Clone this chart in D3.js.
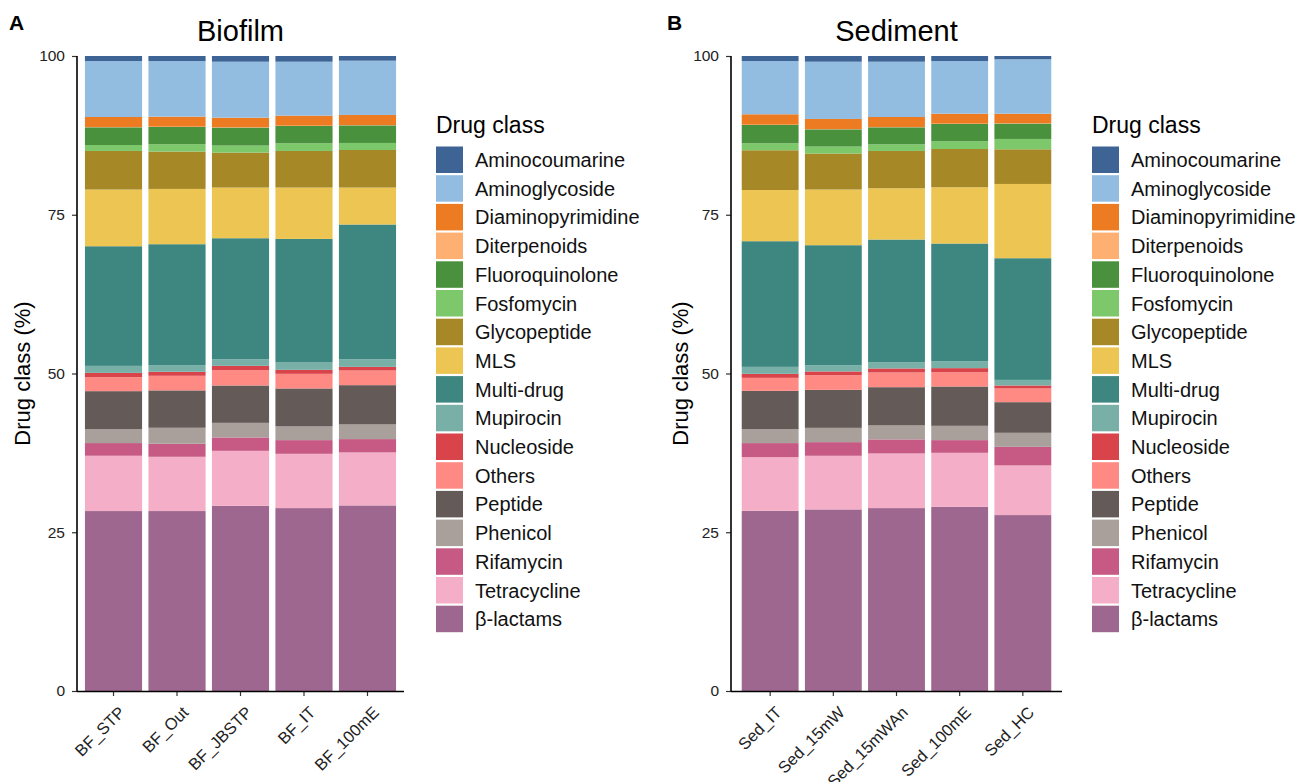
<!DOCTYPE html>
<html>
<head>
<meta charset="utf-8">
<script src="https://cdn.jsdelivr.net/npm/d3@7"></script>
<style>
  body { margin: 0; background: #fff; }
  text { font-family: "Liberation Sans", Arial, sans-serif; }
</style>
</head>
<body>
<div id="chart"></div>
<script>
// drug classes in legend order (top of legend = top of stack)
var drugClasses = ["Aminocoumarine", "Aminoglycoside", "Diaminopyrimidine", "Diterpenoids",
    "Fluoroquinolone", "Fosfomycin", "Glycopeptide", "MLS", "Multi-drug", "Mupirocin",
    "Nucleoside", "Others", "Peptide", "Phenicol", "Rifamycin", "Tetracycline", "β-lactams"];
var classColors = ["#3E6496", "#93BDE0", "#EC7B22", "#FDB072", "#4A913E", "#7CC86A", "#A68826",
    "#ECC553", "#3D8780", "#78B0A8", "#D9434A", "#FF8A84", "#645B59", "#A99F9B", "#C65A84",
    "#F5AEC7", "#9E678F"];

var biofilmSamples = ["BF_STP", "BF_Out", "BF_JBSTP", "BF_IT", "BF_100mE"];
var sedimentSamples = ["Sed_IT", "Sed_15mW", "Sed_15mWAn", "Sed_100mE", "Sed_HC"];

// values per sample, same order as drugClasses (%)
var BF_STP     = [0.79, 8.82, 1.57, 0.05, 2.79, 0.94, 6.08, 8.93, 18.85, 1.10, 0.68, 2.20, 5.98, 2.20, 2.00, 8.71, 28.35];
var BF_Out     = [0.79, 8.77, 1.57, 0.05, 2.72, 1.15, 5.89, 8.71, 19.05, 1.05, 0.63, 2.30, 5.89, 2.52, 2.05, 8.55, 28.35];
var BF_JBSTP   = [0.90, 8.82, 1.51, 0.05, 2.83, 1.11, 5.51, 7.98, 19.06, 1.05, 0.68, 2.41, 5.89, 2.30, 2.11, 8.66, 29.18];
var BF_IT      = [0.90, 8.50, 1.58, 0.05, 2.72, 1.21, 5.77, 8.09, 19.47, 1.16, 0.63, 2.30, 5.98, 2.16, 2.16, 8.55, 28.82];
var BF_100mE   = [0.74, 8.55, 1.58, 0.05, 2.78, 1.11, 5.92, 5.82, 21.22, 1.21, 0.57, 2.31, 6.19, 2.31, 2.10, 8.35, 29.24];
var Sed_IT     = [0.79, 8.39, 1.64, 0.05, 2.88, 1.10, 6.26, 8.07, 19.80, 1.10, 0.63, 2.05, 6.03, 2.20, 2.21, 8.46, 28.39];
var Sed_15mW   = [0.90, 9.02, 1.58, 0.05, 2.72, 1.10, 5.67, 8.77, 18.90, 0.99, 0.59, 2.31, 5.99, 2.25, 2.15, 8.45, 28.61];
var Sed_15mWAn = [0.90, 8.71, 1.57, 0.05, 2.68, 1.05, 5.88, 8.08, 19.32, 0.99, 0.63, 2.32, 6.03, 2.20, 2.21, 8.61, 28.82];
var Sed_100mE  = [0.79, 8.30, 1.57, 0.05, 2.73, 1.21, 6.03, 8.87, 18.53, 1.10, 0.63, 2.26, 6.20, 2.25, 2.00, 8.51, 29.02];
var Sed_HC     = [0.52, 8.57, 1.51, 0.05, 2.42, 1.63, 5.46, 11.70, 19.17, 0.88, 0.47, 2.16, 4.83, 2.21, 2.93, 7.82, 27.72];

var yTicks = [0, 25, 50, 75, 100];

var svg = d3.select('#chart').append('svg')
    .attr("width", 1299)
    .attr("height", 782);

var color = d3.scaleOrdinal().domain(drugClasses).range(classColors);

function buildRows(samples, valueArrays) {
    return samples.map(function(s, i) {
        var vals = valueArrays[i];
        var total = d3.sum(vals);
        var row = { sample: s };
        drugClasses.forEach(function(c, j) { row[c] = vals[j] / total * 100; });
        return row;
    });
}

function drawPanel(opts) {
    var rows = buildRows(opts.samples, opts.values);
    var top = 56, bottom = 691;

    var g = svg.append("g")
        .attr("transform", "translate(" + opts.left + ",0)");

    var x = d3.scaleBand()
        .domain(opts.samples)
        .range([0, opts.width])
        .paddingInner(0.1)
        .paddingOuter(opts.padOuter);

    var y = d3.scaleLinear()
        .domain([0, 100])
        .range([bottom, top]);

    // bottom of the stack is the last legend entry
    var stack = d3.stack().keys(drugClasses.slice().reverse());
    var series = stack(rows);

    g.selectAll("g.layer")
        .data(series)
        .enter().append("g")
        .attr("class", "layer")
        .attr("fill", function(d) { return color(d.key); })
        .selectAll("rect")
        .data(function(d) { return d; })
        .enter().append("rect")
        .attr("x", function(d) { return x(d.data.sample); })
        .attr("width", x.bandwidth())
        .attr("y", function(d) { return y(d[1]); })
        .attr("height", function(d) { return Math.max(0, y(d[0]) - y(d[1])); });

    // y axis
    var yAxis = g.append("g")
        .call(d3.axisLeft(y).tickValues(yTicks).tickSize(5).tickPadding(7));
    yAxis.select(".domain").remove();
    yAxis.append("line")
        .attr("x1", 0).attr("x2", 0)
        .attr("y1", top).attr("y2", bottom + 0.5)
        .attr("stroke", "#000").attr("stroke-width", 1.6);
    yAxis.selectAll(".tick line").attr("stroke", "#333").attr("stroke-width", 1.2);
    yAxis.selectAll(".tick text")
        .style("font-size", "15.5px")
        .attr("fill", "#222")
        .style("font-family", "'Liberation Sans', Arial, sans-serif");

    // x axis
    var xAxis = g.append("g")
        .attr("transform", "translate(0," + bottom + ")")
        .call(d3.axisBottom(x).tickSize(5).tickPadding(4));
    xAxis.select(".domain").remove();
    xAxis.append("line")
        .attr("x1", 0).attr("x2", opts.width)
        .attr("y1", 0.5).attr("y2", 0.5)
        .attr("stroke", "#000").attr("stroke-width", 1.6);
    xAxis.selectAll(".tick line").attr("stroke", "#333").attr("stroke-width", 1.2);
    xAxis.selectAll(".tick text")
        .style("font-size", "16.5px")
        .attr("fill", "#222")
        .attr("text-anchor", "end")
        .attr("dy", "0.35em")
        .attr("transform", "translate(2,12) rotate(-45)")
        .style("font-family", "'Liberation Sans', Arial, sans-serif");

    // y axis title
    g.append("text")
        .attr("transform", "translate(" + (opts.titleX - opts.left) + "," + ((top + bottom) / 2) + ") rotate(-90)")
        .attr("text-anchor", "middle")
        .attr("font-size", "22px")
        .attr("fill", "#000")
        .text("Drug class (%)");

    // panel title
    svg.append("text")
        .attr("x", opts.left + opts.width / 2)
        .attr("y", 41)
        .attr("text-anchor", "middle")
        .attr("font-size", "29px")
        .attr("fill", "#000")
        .text(opts.title);

    // panel letter
    svg.append("text")
        .attr("x", opts.letterX)
        .attr("y", 30)
        .attr("font-size", "21px")
        .attr("font-weight", "bold")
        .attr("fill", "#000")
        .text(opts.letter);

    // legend
    var leg = svg.append("g")
        .attr("transform", "translate(" + opts.legendX + ",0)");
    leg.append("text")
        .attr("x", 0).attr("y", 133)
        .attr("font-size", "23px")
        .attr("fill", "#000")
        .text("Drug class");
    var items = leg.selectAll("g.item")
        .data(drugClasses)
        .enter().append("g")
        .attr("class", "item")
        .attr("transform", function(d, i) { return "translate(0," + (146.5 + i * 28.7) + ")"; });
    items.append("rect")
        .attr("width", 27)
        .attr("height", 26.5)
        .attr("fill", function(d) { return color(d); });
    items.append("text")
        .attr("x", 39)
        .attr("y", 13.5)
        .attr("dy", "0.35em")
        .attr("font-size", "20px")
        .attr("fill", "#111")
        .text(function(d) { return d; });
}

drawPanel({
    samples: biofilmSamples,
    values: [BF_STP, BF_Out, BF_JBSTP, BF_IT, BF_100mE],
    left: 77, width: 327, padOuter: 0.125,
    title: "Biofilm", letter: "A", letterX: 9,
    titleX: 30, legendX: 436
});

drawPanel({
    samples: sedimentSamples,
    values: [Sed_IT, Sed_15mW, Sed_15mWAn, Sed_100mE, Sed_HC],
    left: 731, width: 331, padOuter: 0.17,
    title: "Sediment", letter: "B", letterX: 667,
    titleX: 688, legendX: 1092
});
</script>
</body>
</html>
